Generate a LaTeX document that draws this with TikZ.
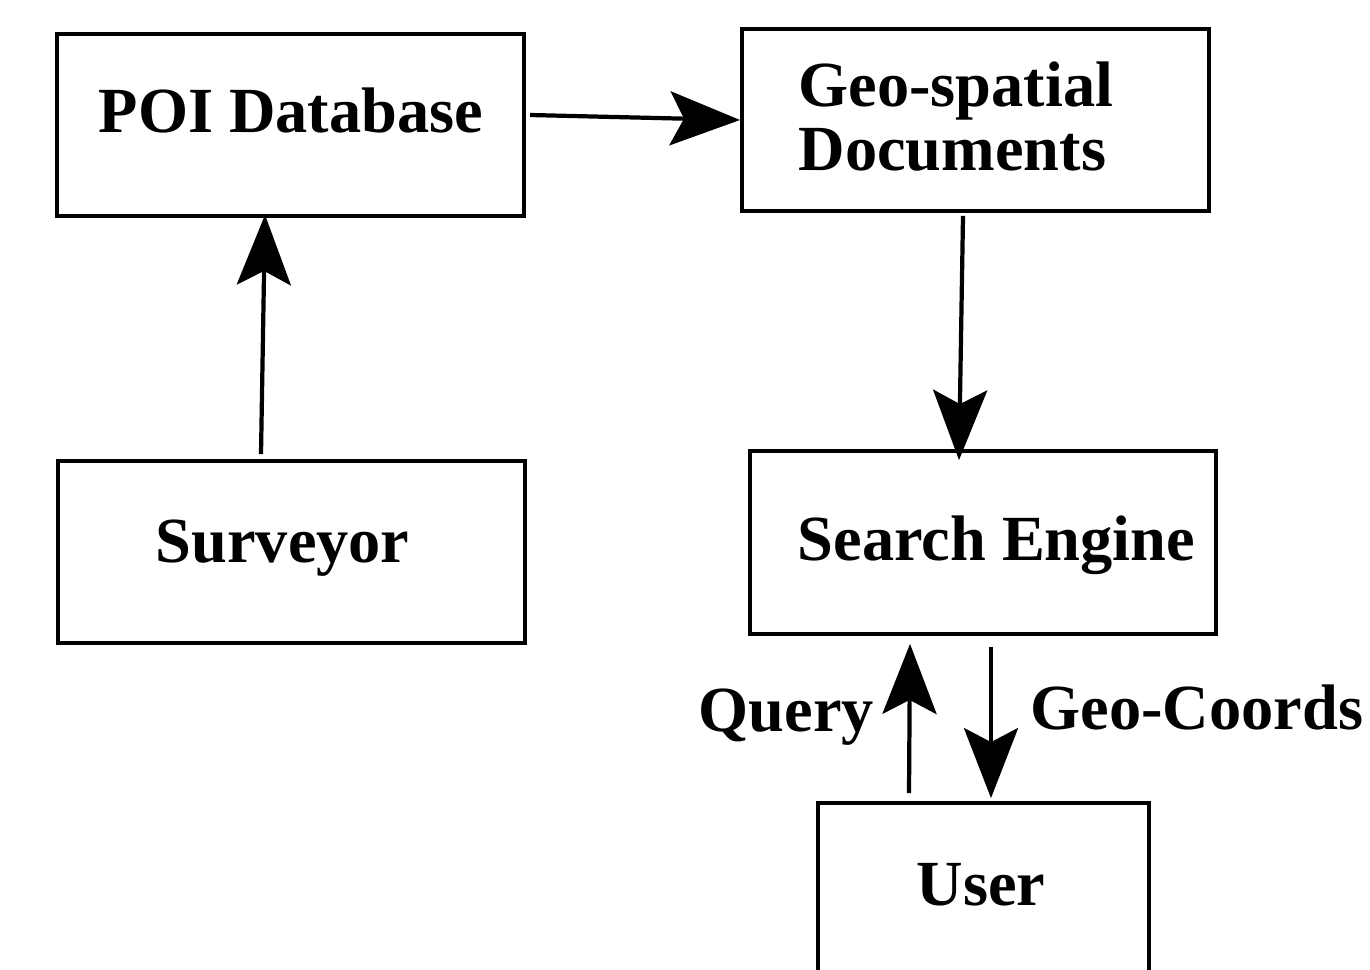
\documentclass[tikz,border=0pt]{standalone}
\usepackage{fontspec}
\setmainfont{Liberation Serif}
\usetikzlibrary{arrows.meta}
\begin{document}
\begin{tikzpicture}[x=0.01cm,y=-0.01cm,
  block/.style={draw,line width=1.05pt,rectangle,inner sep=0pt,
    minimum width=4.67cm,minimum height=1.82cm},
  lbl/.style={inner sep=0pt,anchor=base west,
    font=\fontsize{18.3}{18.2}\selectfont\bfseries,align=left},
  arr/.style={line width=1.2pt,
    -{Stealth[length=0.7cm,width=0.54cm,inset=0.14cm]}}]
\useasboundingbox (0,0) rectangle (1370,970);
\clip (0,0) rectangle (1370,970);

% boxes
\node[block] (poi) at (290.5,125) {};
\node[block] (geo) at (975.5,120) {};
\node[block] (sur) at (291.5,552) {};
\node[block,minimum width=4.66cm,minimum height=1.83cm] (se) at (983,542.5) {};
\node[block,minimum width=3.31cm] (user) at (983.5,894) {};

% box texts (the two-line label is anchored on its last baseline)
\node[lbl] (tpoi) at (98,133) {POI Database};
\node[lbl] (tgeo) at (798,171) {Geo-spatial\\Documents};
\node[lbl] (tsur) at (155,562) {Surveyor};
\node[lbl] (tse) at (797,560) {Search Engine};
\node[lbl] (tuser) at (916,905) {User};

% arrow labels
\node[lbl] (tq) at (698,731) {Query};
\node[lbl] (tgc) at (1030,729) {Geo-Coords};

% connectors
\draw[arr] ([shift={(4,-10)}]poi.east) -- (geo.west);
\draw[arr] ([shift={(-30.5,-5)}]sur.north) -- ([shift={(-25.5,-3)}]poi.south);
\draw[arr] ([shift={(-12.5,3)}]geo.south) -- ([shift={(-24,11)}]se.north);
\draw[arr] ([shift={(-74.5,-8)}]user.north) -- ([shift={(-73,8)}]se.south);
\draw[arr] ([shift={(8,11)}]se.south) -- ([shift={(7.5,-3)}]user.north);
\end{tikzpicture}
\end{document}
